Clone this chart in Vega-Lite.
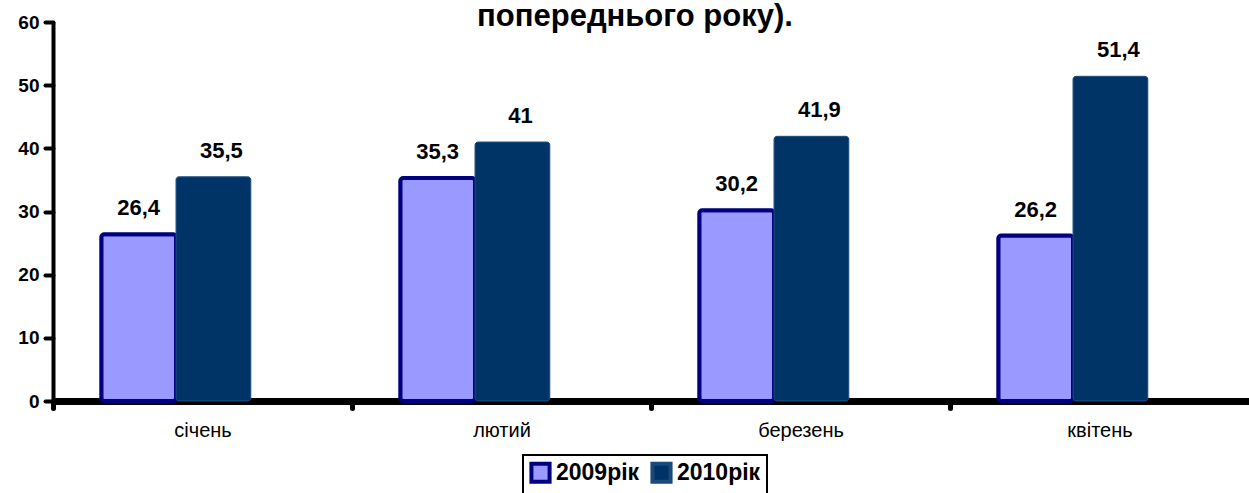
{
  "$schema": "https://vega.github.io/schema/vega-lite/v6.json",
  "width": 1196,
  "height": 379,
  "autosize": {"type": "none"},
  "padding": {"left": 53, "top": 22, "right": 0, "bottom": 92},
  "background": "white",
  "title": {
    "text": "попереднього року).",
    "font": "Liberation Sans",
    "fontSize": 31,
    "fontWeight": "bold",
    "color": "black",
    "anchor": "middle",
    "dx": -16,
    "dy": 38,
    "baseline": "alphabetic",
    "offset": -6
  },
  "data": {
    "values": [
      {"month": "січень", "series": "2009рік", "value": 26.4, "label": "26,4"},
      {"month": "лютий", "series": "2009рік", "value": 35.3, "label": "35,3"},
      {"month": "березень", "series": "2009рік", "value": 30.2, "label": "30,2"},
      {"month": "квітень", "series": "2009рік", "value": 26.2, "label": "26,2"},
      {"month": "січень", "series": "2010рік", "value": 35.5, "label": "35,5"},
      {"month": "лютий", "series": "2010рік", "value": 41, "label": "41"},
      {"month": "березень", "series": "2010рік", "value": 41.9, "label": "41,9"},
      {"month": "квітень", "series": "2010рік", "value": 51.4, "label": "51,4"}
    ]
  },
  "encoding": {
    "x": {
      "field": "month",
      "type": "nominal",
      "sort": ["січень", "лютий", "березень", "квітень"],
      "scale": {"paddingInner": 0, "paddingOuter": 0},
      "axis": {
        "title": null,
        "labelAngle": 0,
        "labelFont": "Liberation Sans",
        "labelFontSize": 20,
        "labelColor": "black",
        "labelPadding": 12,
        "tickOffset": -149.5,
        "labelOffset": 149.5,
        "tickSize": 7,
        "tickWidth": 5,
        "tickCap": "round",
        "tickColor": "black",
        "domainColor": "black",
        "domainWidth": 7,
        "grid": false
      }
    },
    "xOffset": {
      "field": "series",
      "type": "nominal",
      "scale": {"domain": ["2009рік", "2010рік"], "paddingInner": 0, "paddingOuter": 1.167, "align": 0.323}
    },
    "y": {
      "field": "value",
      "type": "quantitative",
      "scale": {"domain": [0, 60], "nice": false},
      "axis": {
        "title": null,
        "values": [0, 10, 20, 30, 40, 50, 60],
        "labelFont": "Liberation Sans",
        "labelFontSize": 19,
        "labelFontWeight": "bold",
        "labelColor": "black",
        "labelPadding": 6,
        "tickSize": 8,
        "tickWidth": 4,
        "tickCap": "round",
        "tickColor": "black",
        "domainColor": "black",
        "domainWidth": 4,
        "grid": false
      }
    }
  },
  "layer": [
    {
      "mark": {"type": "bar", "cornerRadius": 3},
      "encoding": {
        "fill": {
          "field": "series",
          "type": "nominal",
          "scale": {"domain": ["2009рік", "2010рік"], "range": ["#9999FF", "#003366"]}
        },
        "stroke": {
          "field": "series",
          "type": "nominal",
          "scale": {"domain": ["2009рік", "2010рік"], "range": ["#000080", "#1A4A7A"]}
        },
        "strokeWidth": {
          "condition": {"test": "datum.series === '2009рік'", "value": 4},
          "value": 1
        }
      }
    },
    {
      "transform": [{"filter": "datum.series === '2009рік'"}],
      "mark": {
        "type": "text",
        "font": "Liberation Sans",
        "fontSize": 22,
        "fontWeight": "bold",
        "color": "black",
        "baseline": "alphabetic",
        "dy": -19,
        "dx": 0
      },
      "encoding": {"text": {"field": "label"}}
    },
    {
      "transform": [{"filter": "datum.series === '2010рік'"}],
      "mark": {
        "type": "text",
        "font": "Liberation Sans",
        "fontSize": 22,
        "fontWeight": "bold",
        "color": "black",
        "baseline": "alphabetic",
        "dy": -19,
        "dx": 8
      },
      "encoding": {"text": {"field": "label"}}
    }
  ],
  "config": {
    "view": {"stroke": null},
    "legend": {
      "orient": "none",
      "legendX": 470,
      "legendY": 433,
      "direction": "horizontal",
      "title": null,
      "symbolType": "square",
      "symbolSize": 330,
      "symbolStrokeWidth": 4,
      "labelFont": "Liberation Sans",
      "labelFontSize": 23,
      "labelFontWeight": "bold",
      "labelColor": "black",
      "labelOffset": 4,
      "columnPadding": 4,
      "padding": 6,
      "strokeColor": "black",
      "strokeWidth": 2
    }
  }
}
